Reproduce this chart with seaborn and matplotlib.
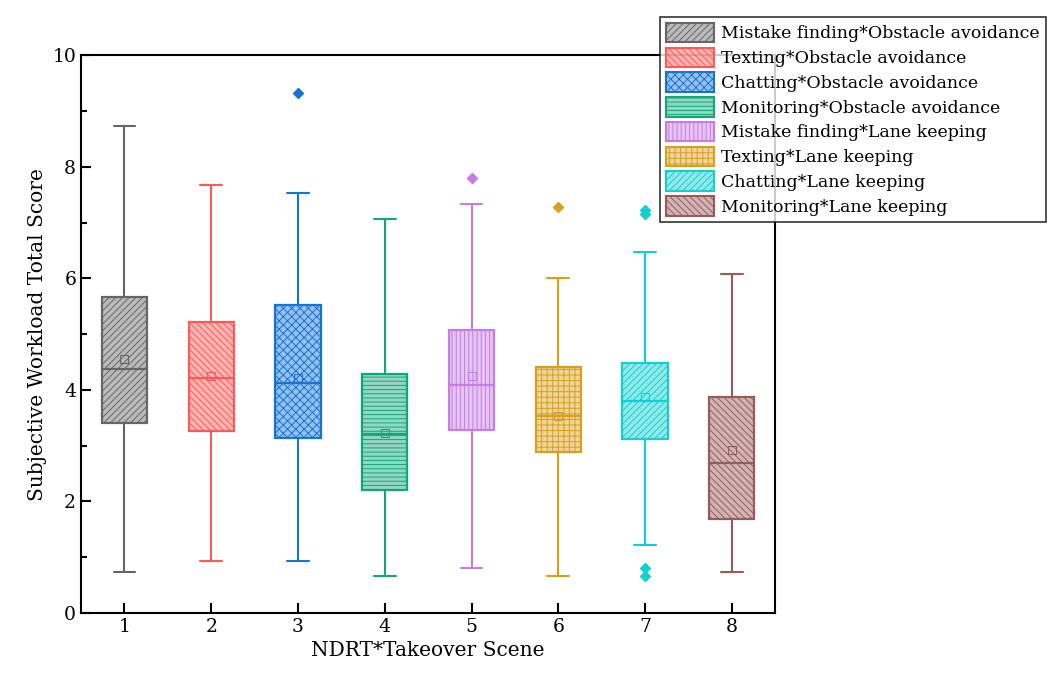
import matplotlib
matplotlib.use("Agg")
import matplotlib.pyplot as plt
import matplotlib.colors as mcolors
from matplotlib.patches import Patch
import seaborn as sns

# data
groups = ["1", "2", "3", "4", "5", "6", "7", "8"]
labels = ["Mistake finding*Obstacle avoidance", "Texting*Obstacle avoidance",
          "Chatting*Obstacle avoidance", "Monitoring*Obstacle avoidance",
          "Mistake finding*Lane keeping", "Texting*Lane keeping",
          "Chatting*Lane keeping", "Monitoring*Lane keeping"]
whislo = [0.73, 0.93, 0.93, 0.67, 0.81, 0.67, 1.21, 0.74]
q1 = [3.41, 3.27, 3.13, 2.21, 3.28, 2.88, 3.12, 1.68]
med = [4.37, 4.21, 4.13, 3.21, 4.08, 3.54, 3.80, 2.68]
q3 = [5.67, 5.21, 5.53, 4.28, 5.07, 4.41, 4.48, 3.88]
whishi = [8.74, 7.67, 7.53, 7.07, 7.33, 6.00, 6.47, 6.08]
means = [4.55, 4.25, 4.22, 3.22, 4.24, 3.53, 3.87, 2.92]
fliers = [[], [], [9.33], [], [7.80], [7.28], [7.15, 7.22, 0.80, 0.67], []]

colors = ["#666666", "#FF5A5A", "#1874D2", "#10A878", "#C77DE0", "#D9A020", "#10D0D0", "#9A5A5A"]
hatches = ["/////", "\\\\\\\\\\", "xxxx", "----", "||||", "+++", "/////", "\\\\\\\\\\"]

sns.set_theme(style="ticks")
plt.rcParams["font.family"] = ["DejaVu Serif"]
plt.rcParams["hatch.linewidth"] = 0.7
plt.rcParams["text.color"] = "black"
plt.rcParams["axes.labelcolor"] = "black"
plt.rcParams["xtick.color"] = "black"
plt.rcParams["ytick.color"] = "black"

fig = plt.figure(figsize=(10.47, 6.75), dpi=100)
ax = fig.add_axes([0.0774, 0.092, 0.663, 0.826])

stats = []
for i in range(len(groups)):
    stats.append(dict(label=groups[i], whislo=whislo[i], q1=q1[i], med=med[i],
                      q3=q3[i], whishi=whishi[i], mean=means[i], fliers=fliers[i]))

bp = ax.bxp(stats, positions=range(1, 9), widths=0.52, capwidths=0.25,
            patch_artist=True, showmeans=True)

for i, c in enumerate(colors):
    fc = mcolors.to_rgba(c, 0.45)
    box = bp["boxes"][i]
    box.set_facecolor(fc)
    box.set_edgecolor(c)
    box.set_hatch(hatches[i])
    box.set_linewidth(1.6)
    bp["medians"][i].set(color=c, linewidth=1.6)
    for w in bp["whiskers"][2 * i:2 * i + 2]:
        w.set(color=c, linewidth=1.5)
    for cp in bp["caps"][2 * i:2 * i + 2]:
        cp.set(color=c, linewidth=1.5)
    bp["fliers"][i].set(marker="D", markerfacecolor=c, markeredgecolor=c, markersize=5)
    bp["means"][i].set(marker="s", markerfacecolor="none", markeredgecolor=c,
                       markersize=6, markeredgewidth=0.8)

ax.set_xlim(0.5, 8.5)
ax.set_ylim(0, 10)
ax.set_yticks([0, 2, 4, 6, 8, 10])
ax.set_yticks([1, 3, 5, 7, 9], minor=True)
ax.tick_params(axis="both", which="both", direction="in", labelsize=13.5, width=1.5)
ax.tick_params(axis="both", which="major", length=7)
ax.tick_params(axis="y", which="minor", length=4)
ax.tick_params(top=False, right=False)
for s in ax.spines.values():
    s.set_linewidth(1.5)
    s.set_color("black")

ax.set_xlabel("NDRT*Takeover Scene", fontsize=14.5)
ax.set_ylabel("Subjective Workload Total Score", fontsize=14.5)

handles = [Patch(facecolor=mcolors.to_rgba(c, 0.45), edgecolor=c, hatch=h, linewidth=1.5)
           for c, h in zip(colors, hatches)]
leg = fig.legend(handles, labels, loc="upper right", bbox_to_anchor=(0.999, 0.975),
                 fontsize=12.5, frameon=True, fancybox=False, edgecolor="black",
                 handlelength=2.8, handleheight=1.35, labelspacing=0.3,
                 handletextpad=0.4, borderpad=0.35, borderaxespad=0)
leg.get_frame().set_linewidth(1.2)

fig.savefig("out.png", dpi=100)
